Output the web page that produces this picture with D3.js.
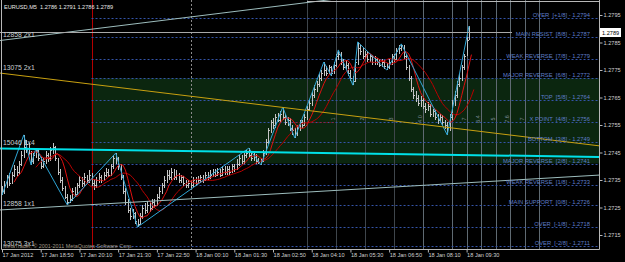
<!DOCTYPE html>
<html>
<head>
<meta charset="utf-8">
<script src="https://cdn.jsdelivr.net/npm/d3@7"></script>
<style>
body { margin: 0; background: #000; }
svg { display: block; font-family: "Liberation Sans", Arial, sans-serif; }
text { white-space: pre; }
</style>
</head>
<body>
<svg id="chart" width="625" height="262"></svg>
<script>
// EURUSD M5, 17 Jan 2012 17:30 -> 18 Jan 09:35, prices in pips above 1.2700
var base = 1.27;
var barClose = [
    31, 33, 36, 34, 37, 39, 38, 41, 44, 47,
    48, 45, 42, 44, 46, 43, 40, 42, 44, 43,
    46, 47, 43, 38, 35, 32, 29, 27, 28, 31,
    30, 33, 35, 34, 36, 35, 37, 34, 33, 35,
    36, 35, 37, 38, 37, 40, 43, 43, 40, 36,
    31, 27, 24, 22, 23, 20, 19, 22, 25, 24,
    26, 25, 27, 26, 29, 31, 33, 35, 37, 36,
    38, 36, 37, 35, 36, 34, 33, 34, 33, 35,
    34, 35, 36, 35, 37, 36, 37, 38, 37, 38,
    37, 39, 38, 39, 38, 40, 39, 41, 43, 42,
    44, 45, 44, 43, 44, 42, 41.5, 42, 45, 49,
    53, 56, 55, 58, 57, 59, 58, 56, 57, 54,
    53, 52, 54, 56, 55, 58, 61, 63, 66, 68,
    70, 72, 74, 75, 74, 76, 74, 77, 80, 81,
    78, 76, 77, 74, 72, 71, 78, 83, 82, 80,
    81, 79, 80, 78, 79, 78, 77, 78, 76.5, 76,
    78, 80, 79, 82, 83, 84, 80, 76, 72, 68,
    66, 65, 63, 64, 62, 61, 62, 59, 60, 58,
    57, 58, 56, 55, 54, 58, 63, 66, 70, 72,
    76, 80, 86, 89
];
var barHigh = [
    33, 34.5, 37, 37.5, 38, 40.5, 40, 42, 45.5, 51.4,
    49.5, 48.5, 45.5, 45, 46.5, 46, 43.5, 43, 45.5, 45,
    47, 48.5, 47.5, 43, 39, 36, 33, 30, 29.5, 32,
    32.5, 34, 36.5, 36, 37.5, 37, 38.5, 37.5, 35, 36,
    37.5, 37, 38, 39.5, 39, 41, 44, 44.8, 43.5, 41,
    37, 32, 28, 25, 24.5, 23.5, 21, 23, 26, 26.5,
    27.5, 27, 28, 28, 30, 32.5, 34, 36.5, 38.5, 38.5,
    39.5, 39, 38.5, 37.5, 37, 36.5, 35, 35, 35, 36,
    36, 36.5, 37, 37, 38, 38, 38.5, 39, 39, 39.5,
    39, 40, 40, 40, 40, 41, 41, 42.5, 44, 44,
    45, 46, 46.6, 45, 45, 44.5, 43, 43, 46, 50,
    54, 57, 57.5, 59, 59.5, 60, 61.5, 59, 58, 57.5,
    55, 54, 55, 57, 57, 59, 62, 64.5, 67, 69.5,
    71, 73.5, 75, 77.9, 76.5, 77, 76.5, 78, 81, 82.3,
    81.5, 79, 78.5, 77.5, 75, 73, 79, 85.2, 84, 83,
    82, 82, 81, 80.5, 80, 79.5, 79, 79, 78.5, 77.5,
    79, 81, 81, 83, 84, 84.5, 84, 81, 77, 73,
    69, 67.5, 66, 65.5, 65, 63, 63.5, 62.5, 61, 60.5,
    59, 59, 58.5, 57, 56, 59, 64, 67.5, 71, 73.5,
    77, 81, 87, 91
];
var barLow = [
    29.5, 30, 32, 33, 33.5, 36, 36.5, 37, 40, 43,
    45, 44, 40.5, 41, 43, 42, 39, 39.5, 41, 41.5,
    42, 44.5, 42, 37, 34, 31, 28, 25.9, 26.5, 27.5,
    29, 29.5, 32, 32.5, 33, 34, 34, 33, 31.5, 32,
    34, 34, 34.5, 36, 36, 36.5, 39, 41, 38.5, 35,
    30, 26, 23, 20.5, 21, 19, 17.9, 18.5, 21, 22.5,
    23, 23.5, 24, 25, 25.5, 28, 30, 32, 34, 35,
    35, 35, 35, 34, 34, 33, 32, 32, 32, 32.5,
    33, 33.5, 34, 34, 34.5, 35, 35.5, 36, 36, 36.5,
    36, 36.5, 37, 37, 37, 37.5, 38, 38.5, 40, 41,
    41, 43, 43, 42, 42, 41, 41, 40.5, 41.5, 44,
    48, 52, 53.5, 54, 56, 56, 57, 55, 54.5, 53,
    51.5, 50.3, 51, 53, 54, 54.5, 57, 60, 62, 65,
    67, 69, 71, 73, 73, 73.5, 73, 73.5, 76, 78.5,
    77, 75, 75, 73, 71, 69.5, 70.5, 77, 80.5, 79,
    79, 78, 78, 77, 77, 77, 76, 76, 75.5, 75,
    75.5, 77, 78, 78.5, 81, 82, 79, 75, 71, 67,
    64.5, 63.5, 62, 61.5, 61, 59.5, 60, 58, 58, 57,
    55.5, 56, 55, 53.5, 51.4, 53, 57, 62, 65, 69,
    71, 75, 80, 86
];
var zigzag = [[0, 29.5], [9, 51.4], [12, 40.5], [14, 46.5], [27, 25.9], [47, 44.8], [56, 17.9],
    [102, 46.6], [107, 40.5], [116, 61.5], [121, 50.3], [133, 77.9], [136, 73], [139, 82.3],
    [145, 69.5], [147, 85.2], [159, 75], [165, 84.5], [184, 51.4], [193, 91]];

var priceTicks = [1.2795, 1.2785, 1.2775, 1.2765, 1.2755, 1.2745, 1.2735, 1.2725, 1.2715];
var timeBars = [0, 16, 32, 48, 64, 80, 96, 112, 128, 144, 160, 176, 192];
var timeLabels = ["17 Jan 2012", "17 Jan 18:50", "17 Jan 20:10", "17 Jan 21:30", "17 Jan 22:50",
    "18 Jan 00:10", "18 Jan 01:30", "18 Jan 02:50", "18 Jan 04:10", "18 Jan 05:30",
    "18 Jan 06:50", "18 Jan 08:10", "18 Jan 09:30"];

var murreyLevels = [1.2794, 1.2787, 1.2779, 1.2772, 1.2764, 1.2756, 1.2749, 1.2741, 1.2733, 1.2726, 1.2718, 1.2711];
var murreyNames = ["OVER", "MAIN RESIST", "WEAK REVERSE", "MAJOR REVERSE", "TOP", "X POINT", "BOTTOM",
    "MAJOR REVERSE", "WEAK REVERSE", "MAIN SUPPORT", "OVER", "OVER"];
var murreyEighths = ["+1/8", "8/8", "7/8", "6/8", "5/8", "4/8", "3/8", "2/8", "1/8", "0/8", "-1/8", "-2/8"];
var murreyStartBar = 37;

// gann lines: [bar, pips] at both ends
var trendNames = ["12858 2x1", "12858 1x1", "13075 2x1", "13075 3x1", "15046 1x4"];
var trendFrom = [[-1, 85.7], [-1, 24.1], [-1, 73.9], [-1, 9.6], [-1, 46.45]];
var trendTo = [[247, 112.7], [247, 36.8], [247, 47.4], [247, -60], [247, 43.4]];

var timeLineBars = [126, 138, 150, 162, 174, 186, 192, 198, 204, 210, 216, 222];
var timeLineTags = ["", "1", "2", "3", "4.0", "", "7", "6.4", "5", "7.6", "7", ""];
var dottedBar = 78;
var bidPrice = 1.2789;
var headerText = "EURUSD,M5  1.2786 1.2791 1.2786 1.2789";

var svg = d3.select("#chart");
var plotRight = 599, plotBottom = 249;

var x = d3.scaleLinear().domain([0, 192]).range([2, 466.6]);
var y = d3.scaleLinear().domain([1.2715, 1.2795]).range([235, 15]);
function px(q) { return base + q / 10000; }

svg.append("rect").attr("width", 625).attr("height", 262).attr("fill", "#000");
svg.append("clipPath").attr("id", "plotClip")
    .append("rect").attr("x", 0).attr("y", 0).attr("width", plotRight).attr("height", plotBottom);

var plot = svg.append("g").attr("clip-path", "url(#plotClip)");

// green zone between 6/8 and 2/8
plot.append("rect")
    .attr("x", x(murreyStartBar))
    .attr("y", y(murreyLevels[3]))
    .attr("width", plotRight - x(murreyStartBar))
    .attr("height", y(murreyLevels[7]) - y(murreyLevels[3]))
    .attr("fill", "#0b260f");

// time lines
timeLineBars.forEach(function (b, i) {
    var xx = Math.round(x(b)) + 0.5;
    plot.append("line")
        .attr("x1", xx).attr("x2", xx).attr("y1", 0).attr("y2", plotBottom)
        .attr("stroke", i < 4 ? "#3f464c" : "#5f6a72")
        .attr("stroke-width", 1);
    if (timeLineTags[i]) {
        plot.append("text")
            .attr("transform", "translate(" + (xx - 2) + "," + 119 + ") rotate(-90)")
            .attr("text-anchor", "middle")
            .attr("font-size", "5.5px")
            .attr("fill", "#7d8a94")
            .text(timeLineTags[i]);
    }
});

plot.append("line")
    .attr("x1", Math.round(x(dottedBar)) + 0.5).attr("x2", Math.round(x(dottedBar)) + 0.5)
    .attr("y1", 0).attr("y2", plotBottom)
    .attr("stroke", "#8a8a8a").attr("stroke-dasharray", "2,2");

plot.append("line")
    .attr("x1", Math.round(x(murreyStartBar)) + 0.5).attr("x2", Math.round(x(murreyStartBar)) + 0.5)
    .attr("y1", 0).attr("y2", plotBottom)
    .attr("stroke", "#b40000");

// murrey math levels
murreyLevels.forEach(function (lv) {
    var yy = Math.round(y(lv)) + 0.5;
    plot.append("line")
        .attr("x1", x(murreyStartBar)).attr("x2", plotRight)
        .attr("y1", yy).attr("y2", yy)
        .attr("stroke", "#3454a8")
        .attr("stroke-dasharray", "2,2");
});

// red dotted piece on the X point
plot.append("line")
    .attr("x1", x(118)).attr("x2", x(137))
    .attr("y1", Math.round(y(murreyLevels[5])) + 0.5).attr("y2", Math.round(y(murreyLevels[5])) + 0.5)
    .attr("stroke", "#c00000").attr("stroke-dasharray", "1,2");

// bars: high-low stroke plus close tick
barClose.forEach(function (c, i) {
    var xx = Math.round(x(i)) + 0.5;
    var d = "M" + xx + "," + y(px(barHigh[i])) + "V" + y(px(barLow[i])) +
        "M" + xx + "," + (Math.round(y(px(c))) + 0.5) + "H" + (xx + 1);
    plot.append("path")
        .attr("d", d)
        .attr("stroke", "#c4c4c4")
        .attr("stroke-width", 1)
        .attr("fill", "none")
        .attr("shape-rendering", "crispEdges");
});

// moving averages
function sma(n, shift) {
    var out = [];
    for (var i = n - 1; i < barClose.length; i++) {
        var s = 0;
        for (var k = 0; k < n; k++) { s += barClose[i - k]; }
        out.push([i + shift, s / n]);
    }
    return out;
}
var line = d3.line()
    .x(function (d) { return x(d[0]); })
    .y(function (d) { return y(px(d[1])); });

plot.append("path").attr("d", line(sma(13, 2)))
    .attr("fill", "none").attr("stroke", "#b80000").attr("stroke-width", 1);
plot.append("path").attr("d", line(sma(5, 1)))
    .attr("fill", "none").attr("stroke", "#e01010").attr("stroke-width", 1);

// zigzag
plot.append("path").attr("d", line(zigzag))
    .attr("fill", "none").attr("stroke", "#2ea6d6").attr("stroke-width", 1);

// gann lines
var trendColors = ["#9dbdbd", "#9dbdbd", "#c8a010", "#c8a010", "#00e0e8"];
var trendWidths = [1, 1, 1, 1, 2];
trendNames.forEach(function (name, i) {
    plot.append("line")
        .attr("x1", x(trendFrom[i][0])).attr("y1", y(px(trendFrom[i][1])))
        .attr("x2", x(trendTo[i][0])).attr("y2", y(px(trendTo[i][1])))
        .attr("stroke", trendColors[i])
        .attr("stroke-width", trendWidths[i]);
});

// bid line
plot.append("line")
    .attr("x1", 0).attr("x2", 512)
    .attr("y1", Math.round(y(bidPrice)) + 0.5).attr("y2", Math.round(y(bidPrice)) + 0.5)
    .attr("stroke", "#a8a8a8");

// labels of gann lines
trendNames.forEach(function (name, i) {
    var x0 = 0;
    var t = (x0 - x(trendFrom[i][0])) / (x(trendTo[i][0]) - x(trendFrom[i][0]));
    var yy = y(px(trendFrom[i][1])) + t * (y(px(trendTo[i][1])) - y(px(trendFrom[i][1])));
    svg.append("text")
        .attr("x", 3).attr("y", yy - 3.5)
        .attr("font-size", "6.8px")
        .attr("fill", "#c8d0d4")
        .text(name);
});

// murrey labels
murreyLevels.forEach(function (lv, i) {
    svg.append("text")
        .attr("x", 590).attr("y", Math.round(y(lv)) - 1)
        .attr("text-anchor", "end")
        .attr("font-size", "5.8px")
        .attr("fill", "#5f7dc8")
        .text(murreyNames[i] + "  [" + murreyEighths[i] + "] - " + lv.toFixed(4));
});

// frame
svg.append("path")
    .attr("d", "M1.5,0V" + (plotBottom + 0.5) + "H" + (plotRight + 0.5) + "V0")
    .attr("fill", "none").attr("stroke", "#b8b8b8");
svg.append("line")
    .attr("x1", 307).attr("x2", plotRight).attr("y1", 1.5).attr("y2", 1.5)
    .attr("stroke", "#b8b8b8");

// price axis
var yAxis = d3.axisRight(y)
    .tickValues(priceTicks)
    .tickSize(3)
    .tickFormat(d3.format(".4f"));
var yg = svg.append("g").attr("transform", "translate(" + (plotRight + 0.5) + ",0)").call(yAxis);
yg.select(".domain").remove();
yg.selectAll("line").attr("stroke", "#b8b8b8");
yg.selectAll("text").attr("font-size", "5.6px").attr("fill", "#d0d0d0").attr("x", 4)
    .attr("font-family", "Liberation Sans, Arial, sans-serif");

// current price box
svg.append("rect")
    .attr("x", plotRight + 1).attr("y", Math.round(y(bidPrice)) - 4)
    .attr("width", 21).attr("height", 9).attr("fill", "#ffffff");
svg.append("text")
    .attr("x", plotRight + 3).attr("y", Math.round(y(bidPrice)) + 2.5)
    .attr("font-size", "5.6px").attr("fill", "#000")
    .text(bidPrice.toFixed(4));

// time axis
var xAxis = d3.axisBottom(x)
    .tickValues(timeBars)
    .tickSize(3)
    .tickFormat(function (d, i) { return timeLabels[i]; });
var xg = svg.append("g").attr("transform", "translate(0," + (plotBottom + 0.5) + ")").call(xAxis);
xg.select(".domain").remove();
xg.selectAll("line").attr("stroke", "#b8b8b8");
xg.selectAll("text").attr("font-size", "5.6px").attr("fill", "#d0d0d0")
    .attr("text-anchor", "start").attr("y", 4)
    .attr("font-family", "Liberation Sans, Arial, sans-serif");

// header and copyright
svg.append("text").attr("x", 4).attr("y", 9)
    .attr("font-size", "5.6px").attr("fill", "#e8e8e8")
    .text(headerText);
svg.append("text").attr("x", 3).attr("y", 248)
    .attr("font-size", "5.4px").attr("fill", "#a09a88")
    .text("MetaTrader, \u00a9 2001-2011 MetaQuotes Software Corp.");
</script>
</body>
</html>
